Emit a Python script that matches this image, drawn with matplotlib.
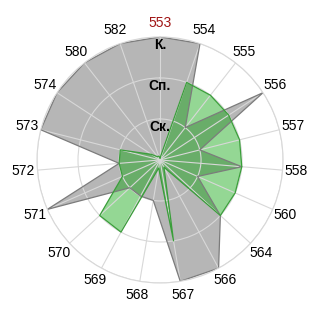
import numpy as np
import matplotlib
matplotlib.use("Agg")
import matplotlib.pyplot as plt

plt.rcParams['font.family'] = ['Liberation Sans', 'DejaVu Sans']

categories = ["553", "554", "555", "556", "557", "558", "560", "564", "566", "567",
              "568", "569", "570", "571", "572", "573", "574", "580", "582"]
gray_vals = [3, 3, 1, 3, 1, 2, 1, 2, 3, 3, 1, 1, 1, 3, 1, 3, 3, 3, 3]
green_vals = [0.05, 2, 2, 2, 2, 2, 2, 2, 0.2, 2, 0.2, 2, 2, 1, 1, 1, 0.25, 0.1, 0.1]
level_ticks = [1, 2, 3]
level_labels = ["Ск.", "Сп.", "К."]

n = len(categories)
theta = np.arange(n) * 2 * np.pi / n
theta_c = np.append(theta, theta[0])


def closed(vals):
    return np.append(vals, vals[0])


fig = plt.figure(figsize=(3.2, 3.2), dpi=100)
ax = fig.add_axes([0.1156, 0.1156, 0.769, 0.769], projection="polar")
ax.set_theta_zero_location("N")
ax.set_theta_direction(-1)
ax.set_ylim(0, 3)

# series
ax.fill(theta_c, closed(gray_vals), color=(0.5, 0.5, 0.5), alpha=0.57, lw=0)
ax.plot(theta_c, closed(gray_vals), color="#7c7c7c", lw=0.9)
ax.fill(theta_c, closed(green_vals), color=(0.0, 0.63, 0.0), alpha=0.42, lw=0)
ax.plot(theta_c, closed(green_vals), color="#3a9e3a", lw=0.9)

# grid
ax.set_xticks(theta)
ax.set_xticklabels([])
ax.set_yticks(level_ticks)
ax.set_yticklabels([])
ax.grid(color="#d8d8d8", lw=0.8)
ax.spines["polar"].set_color("#d8d8d8")
ax.spines["polar"].set_linewidth(0.8)

for t, lab in zip(theta, categories):
    col = "#a01414" if lab == "553" else "black"
    ax.text(t, 3.34, lab, ha="center", va="center", fontsize=10, color=col)

for v, lab in zip(level_ticks, level_labels):
    ax.text(0, v - 0.2, lab, ha="center", va="center", fontsize=10,
            fontweight="bold", color="black")

fig.savefig("out.png", dpi=100)
